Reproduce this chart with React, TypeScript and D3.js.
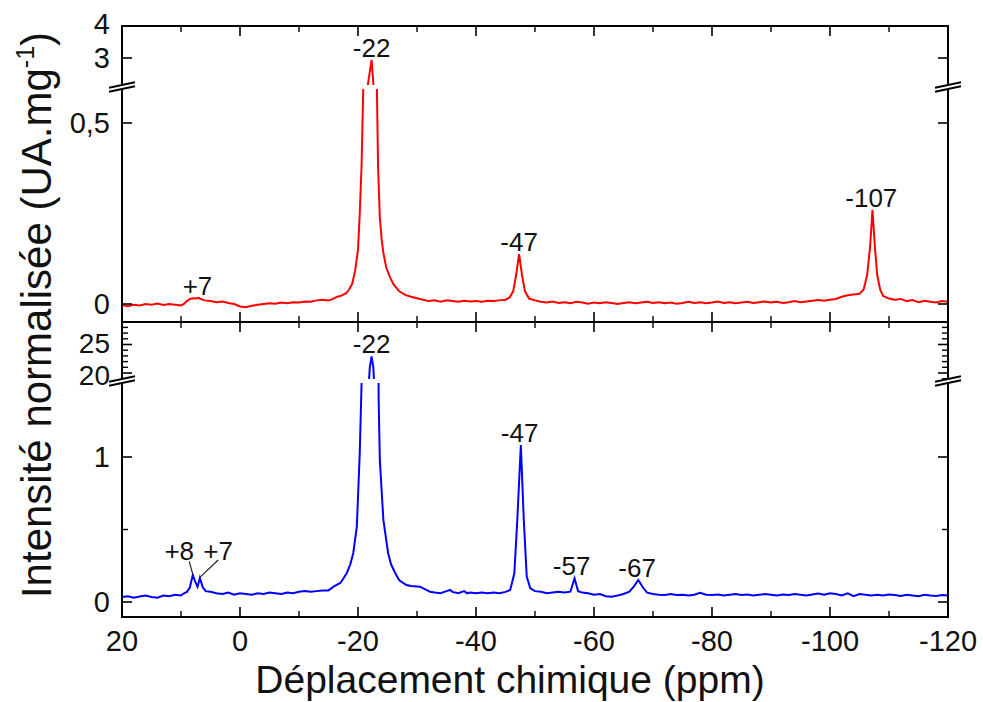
import React from "react";
import * as d3 from "d3";

// ---------- data ----------
// red spectrum (top panel): [chemical shift (ppm), normalised intensity]
const redSpectrum: [number, number][] = [
  [20, -0.003], [19, -0.006], [18, -0.002], [17, -0.004], [16, 0.0], [15, -0.002], [14, 0.001],
  [13, -0.003], [12, 0.0], [11, -0.002], [10, -0.004], [9.5, 0.0], [9, 0.008], [8.5, 0.014],
  [8, 0.016], [7.5, 0.015], [7, 0.017], [6.5, 0.013], [6, 0.01], [5, 0.008], [4, 0.005], [3, 0.007],
  [2, 0.003], [1, 0.0], [0, -0.007], [-1, -0.009], [-2, -0.005], [-3, -0.002], [-4, 0.0], [-5, 0.002],
  [-6, 0.001], [-7, 0.004], [-8, 0.002], [-9, 0.005], [-10, 0.004], [-11, 0.007], [-12, 0.006],
  [-13, 0.01], [-14, 0.012], [-15, 0.01], [-15.5, 0.012], [-16, 0.016], [-16.5, 0.02], [-17, 0.022],
  [-17.5, 0.026], [-18, 0.03], [-18.5, 0.04], [-19, 0.055], [-19.5, 0.09], [-20, 0.15], [-20.3, 0.25],
  [-20.6, 0.38], [-20.9, 0.6], [-21.3, 1.2], [-21.7, 2.2], [-22.3, 2.94], [-22.6, 2.2], [-22.9, 1.2],
  [-23.2, 0.6], [-23.4, 0.38], [-23.7, 0.24], [-24, 0.18], [-24.3, 0.141], [-24.8, 0.1], [-25.4, 0.075],
  [-26, 0.055], [-27, 0.035], [-28, 0.025], [-29, 0.02], [-30, 0.016], [-31, 0.012], [-32, 0.008],
  [-33, 0.01], [-34, 0.006], [-35, 0.01], [-36, 0.008], [-37, 0.006], [-38, 0.009], [-39, 0.007],
  [-40, 0.008], [-41, 0.006], [-42, 0.009], [-43, 0.008], [-44, 0.01], [-45, 0.012], [-45.7, 0.018],
  [-46.3, 0.035], [-46.8, 0.08], [-47.3, 0.138], [-47.8, 0.08], [-48.3, 0.035], [-49, 0.015],
  [-50, 0.01], [-51, 0.006], [-52, 0.004], [-53, 0.007], [-54, 0.003], [-55, 0.005], [-56, 0.002],
  [-57, 0.006], [-58, 0.004], [-59, 0.001], [-60, 0.004], [-61, 0.002], [-62, 0.005], [-63, 0.003],
  [-64, 0.0], [-65, 0.003], [-66, 0.005], [-67, 0.002], [-68, 0.004], [-69, 0.006], [-70, 0.003],
  [-71, 0.005], [-72, 0.002], [-73, 0.004], [-74, 0.001], [-75, 0.003], [-76, 0.006], [-77, 0.003],
  [-78, 0.005], [-79, 0.002], [-80, 0.004], [-81, 0.007], [-82, 0.003], [-83, 0.005], [-84, 0.002],
  [-85, 0.004], [-86, 0.006], [-87, 0.003], [-88, 0.005], [-89, 0.007], [-90, 0.004], [-91, 0.006],
  [-92, 0.003], [-93, 0.005], [-94, 0.008], [-95, 0.005], [-96, 0.007], [-97, 0.009], [-98, 0.011],
  [-99, 0.009], [-100, 0.012], [-101, 0.014], [-102, 0.02], [-103, 0.024], [-104, 0.026], [-105, 0.028],
  [-105.7, 0.04], [-106.3, 0.08], [-106.8, 0.16], [-107.2, 0.26], [-107.6, 0.16], [-108, 0.08],
  [-108.5, 0.04], [-109, 0.022], [-110, 0.015], [-111, 0.012], [-112, 0.014], [-113, 0.008],
  [-114, 0.011], [-115, 0.005], [-116, 0.009], [-117, 0.006], [-118, 0.004], [-119, 0.008], [-120, 0.006],
];

// blue spectrum (bottom panel)
const blueSpectrum: [number, number][] = [
  [20, 0.035], [19, 0.04], [18, 0.03], [17, 0.038], [16, 0.045], [15, 0.035], [14, 0.03], [13, 0.045],
  [12, 0.04], [11, 0.05], [10, 0.045], [9.5, 0.06], [9, 0.07], [8.5, 0.1], [8, 0.186], [7.6, 0.14],
  [7.2, 0.105], [6.8, 0.166], [6.3, 0.1], [5.8, 0.075], [5, 0.07], [4, 0.06], [3, 0.055], [2, 0.065],
  [1, 0.05], [0, 0.06], [-1, 0.055], [-2, 0.05], [-3, 0.06], [-4, 0.055], [-5, 0.065], [-6, 0.06],
  [-7, 0.055], [-8, 0.065], [-9, 0.06], [-10, 0.07], [-11, 0.075], [-12, 0.07], [-13, 0.075],
  [-14, 0.08], [-15, 0.08], [-16, 0.11], [-17, 0.131], [-17.5, 0.16], [-18.1, 0.2], [-18.7, 0.26],
  [-19.2, 0.338], [-19.8, 0.52], [-20.3, 1.03], [-20.6, 1.5], [-20.9, 3], [-21.5, 12], [-22, 21],
  [-22.3, 22.9], [-22.6, 21], [-23, 12], [-23.3, 3], [-23.5, 1.4], [-23.7, 0.98], [-24.3, 0.566],
  [-25.1, 0.338], [-25.6, 0.26], [-26.3, 0.2], [-27, 0.15], [-28.2, 0.117], [-29, 0.11], [-30.5, 0.106],
  [-31.5, 0.085], [-32.2, 0.071], [-33, 0.065], [-34, 0.06], [-35, 0.075], [-35.6, 0.083], [-36, 0.07],
  [-37, 0.06], [-38, 0.075], [-38.5, 0.06], [-39, 0.065], [-40, 0.06], [-41, 0.065], [-42, 0.06],
  [-43, 0.065], [-44, 0.06], [-45, 0.07], [-45.8, 0.083], [-46.5, 0.198], [-47, 0.566], [-47.6, 1.083],
  [-48.1, 0.566], [-48.6, 0.175], [-49.2, 0.094], [-50, 0.075], [-51, 0.07], [-52, 0.06], [-53, 0.065],
  [-54, 0.07], [-55, 0.065], [-56, 0.071], [-56.7, 0.163], [-57.3, 0.075], [-58, 0.065], [-59, 0.06],
  [-60, 0.05], [-61, 0.055], [-62, 0.04], [-63, 0.037], [-64, 0.045], [-65, 0.055], [-66, 0.071],
  [-66.8, 0.11], [-67.5, 0.152], [-68.3, 0.1], [-69, 0.064], [-70, 0.055], [-71, 0.05], [-72, 0.048],
  [-73, 0.055], [-74, 0.048], [-75, 0.05], [-76, 0.045], [-77, 0.05], [-78, 0.064], [-79, 0.05],
  [-80, 0.048], [-81, 0.052], [-82, 0.045], [-83, 0.05], [-84, 0.055], [-85, 0.048], [-86, 0.052],
  [-87, 0.045], [-88, 0.05], [-89, 0.055], [-90, 0.05], [-91, 0.045], [-92, 0.052], [-93, 0.048],
  [-94, 0.055], [-95, 0.05], [-96, 0.045], [-97, 0.052], [-98, 0.058], [-99, 0.05], [-100, 0.06],
  [-101, 0.055], [-102, 0.045], [-103, 0.06], [-104, 0.04], [-105, 0.055], [-106, 0.05], [-107, 0.045],
  [-108, 0.05], [-109, 0.045], [-110, 0.052], [-111, 0.048], [-112, 0.042], [-113, 0.05], [-114, 0.045],
  [-115, 0.04], [-116, 0.05], [-117, 0.045], [-118, 0.042], [-119, 0.048], [-120, 0.045],
];

// x axis ticks
const xMajorTicks = [20, 0, -20, -40, -60, -80, -100, -120];
const xMinorTicks = [10, -10, -30, -50, -70, -90, -110];

// y axis ticks (per broken-axis segment)
const topLowMajor = [0, 0.5];
const topUpMajor = [3, 4];
const botLowMajor = [0, 1];
const botLowMinor = [0.5];
const botUpMajor = [20, 25];
const botUpMinor = [19, 21, 22, 23, 24, 26, 27, 28];

// peak annotations: [text, ppm, intensity]
const topPeakLabels: [string, number, number][] = [
  ["-22", -22.3, 2.94],
  ["+7", 7.2, 0.017],
  ["-47", -47.3, 0.138],
  ["-107", -107.0, 0.26],
];
const botPeakLabels: [string, number, number][] = [
  ["-22", -22.3, 22.9],
  ["-47", -47.4, 1.083],
  ["-57", -56.2, 0.163],
  ["-67", -67.3, 0.152],
];
// labels with leader lines: [text, labelPpm, labelValue, fromPpm, fromValue, toPpm, toValue]
const botLeaderLabels: [string, number, number, number, number, number, number][] = [
  ["+8", 10.3, 0.29, 8.6, 0.28, 8.0, 0.19],
  ["+7", 3.7, 0.29, 3.7, 0.29, 6.8, 0.17],
];

const RED = "#ff0000";
const BLUE = "#0000ff";
const FONT = "'Liberation Sans', Arial, Helvetica, sans-serif";

// ---------- layout ----------
const W = 983;
const H = 702;
const L = 122;
const R = 948;
const topT = 26;
const mid = 322;
const botB = 617;

const x = d3.scaleLinear().domain([20, -120]).range([L, R]);

const yTopLow = d3.scaleLinear().domain([0, 0.5]).range([304, 123]);
const yTopUp = d3.scaleLinear().domain([3, 4]).range([58, 26]);
const yBotLow = d3.scaleLinear().domain([0, 1]).range([602, 457]);
const yBotUp = d3.scaleLinear().domain([20, 25]).range([373, 344.5]);

const topBreak = 87;
const botBreak = 381;

const fmt = (v: number) => String(v).replace(".", ",");

function linePath(data: [number, number][], y: d3.ScaleLinear<number, number>) {
  return d3
    .line<[number, number]>()
    .x((d) => x(d[0]))
    .y((d) => y(d[1]))(data) as string;
}

function BreakMark({ x0, yb }: { x0: number; yb: number }) {
  const hw = 13;
  const s = 2.75;
  const a1 = [x0 - hw, yb - 2 + s];
  const a2 = [x0 + hw, yb - 2 - s];
  const b1 = [x0 - hw, yb + 2 + s];
  const b2 = [x0 + hw, yb + 2 - s];
  return (
    <g>
      <polygon
        points={`${a1[0]},${a1[1]} ${a2[0]},${a2[1]} ${b2[0]},${b2[1]} ${b1[0]},${b1[1]}`}
        fill="white"
        stroke="none"
      />
      <line x1={a1[0]} y1={a1[1]} x2={a2[0]} y2={a2[1]} stroke="black" strokeWidth={1.8} />
      <line x1={b1[0]} y1={b1[1]} x2={b2[0]} y2={b2[1]} stroke="black" strokeWidth={1.8} />
    </g>
  );
}

function YTicks({
  y,
  major,
  minor,
  label,
  size = 29,
  nudge = {},
}: {
  y: d3.ScaleLinear<number, number>;
  major: number[];
  minor: number[];
  label: boolean;
  size?: number;
  nudge?: Record<string, number>;
}) {
  return (
    <g>
      {major.map((v) => (
        <g key={"M" + v}>
          <line x1={L} x2={L + 10} y1={y(v)} y2={y(v)} stroke="black" strokeWidth={1.6} />
          <line x1={R} x2={R - 10} y1={y(v)} y2={y(v)} stroke="black" strokeWidth={1.6} />
          {label && (
            <text
              x={110}
              y={y(v) + (nudge[String(v)] || 0)}
              dy="0.36em"
              textAnchor="end"
              fontSize={size}
              fontFamily={FONT}
              fill="#111"
            >
              {fmt(v)}
            </text>
          )}
        </g>
      ))}
      {minor.map((v) => (
        <g key={"m" + v}>
          <line x1={L} x2={L + 6} y1={y(v)} y2={y(v)} stroke="black" strokeWidth={1.4} />
          <line x1={R} x2={R - 6} y1={y(v)} y2={y(v)} stroke="black" strokeWidth={1.4} />
        </g>
      ))}
    </g>
  );
}

function XTicks({ yTop, yBot }: { yTop: number; yBot: number }) {
  return (
    <g>
      {xMajorTicks.map((v) => (
        <g key={"M" + v}>
          <line x1={x(v)} x2={x(v)} y1={yTop} y2={yTop + 10} stroke="black" strokeWidth={1.6} />
          <line x1={x(v)} x2={x(v)} y1={yBot} y2={yBot - 10} stroke="black" strokeWidth={1.6} />
        </g>
      ))}
      {xMinorTicks.map((v) => (
        <g key={"m" + v}>
          <line x1={x(v)} x2={x(v)} y1={yTop} y2={yTop + 6} stroke="black" strokeWidth={1.4} />
          <line x1={x(v)} x2={x(v)} y1={yBot} y2={yBot - 6} stroke="black" strokeWidth={1.4} />
        </g>
      ))}
    </g>
  );
}

export default function App() {
  return (
    <svg
      width={W}
      height={H}
      viewBox={`0 0 ${W} ${H}`}
      style={{ position: "absolute", left: 0, top: 0, background: "white" }}
    >
      <defs>
        <clipPath id="topLow">
          <rect x={L} y={topBreak + 2} width={R - L} height={mid - topBreak - 2} />
        </clipPath>
        <clipPath id="topUp">
          <rect x={L} y={topT} width={R - L} height={topBreak - 2 - topT} />
        </clipPath>
        <clipPath id="botLow">
          <rect x={L} y={botBreak + 2} width={R - L} height={botB - botBreak - 2} />
        </clipPath>
        <clipPath id="botUp">
          <rect x={L} y={mid} width={R - L} height={botBreak - 2 - mid} />
        </clipPath>
      </defs>
      <rect x={0} y={0} width={W} height={H} fill="white" />

      {/* spectra */}
      <path d={linePath(redSpectrum, yTopLow)} fill="none" stroke={RED} strokeWidth={2} clipPath="url(#topLow)" />
      <path d={linePath(redSpectrum, yTopUp)} fill="none" stroke={RED} strokeWidth={2} clipPath="url(#topUp)" />
      <path d={linePath(blueSpectrum, yBotLow)} fill="none" stroke={BLUE} strokeWidth={2} clipPath="url(#botLow)" />
      <path d={linePath(blueSpectrum, yBotUp)} fill="none" stroke={BLUE} strokeWidth={2} clipPath="url(#botUp)" />

      {/* frames */}
      <rect x={L} y={topT} width={R - L} height={mid - topT} fill="none" stroke="black" strokeWidth={2} />
      <rect x={L} y={mid} width={R - L} height={botB - mid} fill="none" stroke="black" strokeWidth={2} />

      <XTicks yTop={topT} yBot={mid} />
      <XTicks yTop={mid} yBot={botB} />

      <YTicks y={yTopLow} major={topLowMajor} minor={[]} label />
      <YTicks y={yTopUp} major={topUpMajor} minor={[]} label nudge={{ "4": -2 }} />
      <YTicks y={yBotLow} major={botLowMajor} minor={botLowMinor} label />
      <YTicks y={yBotUp} major={botUpMajor} minor={botUpMinor} label size={28} nudge={{ "25": -2, "20": 2 }} />

      <BreakMark x0={L} yb={topBreak} />
      <BreakMark x0={R} yb={topBreak} />
      <BreakMark x0={L} yb={botBreak} />
      <BreakMark x0={R} yb={botBreak} />

      {/* peak labels */}
      {topPeakLabels.map(([t, p, v]) => {
        const yy = v > 1 ? yTopUp(v) : yTopLow(v);
        return (
          <text key={"t" + t} x={x(p)} y={yy - 3} textAnchor="middle" fontSize={26} fontFamily={FONT} fill="#111">
            {t}
          </text>
        );
      })}
      {botPeakLabels.map(([t, p, v]) => {
        const yy = v > 2 ? yBotUp(v) : yBotLow(v);
        return (
          <text key={"b" + t} x={x(p)} y={yy - 3} textAnchor="middle" fontSize={26} fontFamily={FONT} fill="#111">
            {t}
          </text>
        );
      })}
      {botLeaderLabels.map(([t, lp, lv, fp, fv, tp, tv]) => (
        <g key={"l" + t}>
          <text x={x(lp)} y={yBotLow(lv)} textAnchor="middle" fontSize={26} fontFamily={FONT} fill="#111">
            {t}
          </text>
          <line x1={x(fp)} y1={yBotLow(fv)} x2={x(tp)} y2={yBotLow(tv)} stroke="#222" strokeWidth={1.2} />
        </g>
      ))}

      {/* x tick labels */}
      {xMajorTicks.map((v) => (
        <text key={"xl" + v} x={x(v)} y={651} textAnchor="middle" fontSize={29} fontFamily={FONT} fill="#111">
          {v}
        </text>
      ))}

      {/* axis titles */}
      <text x={510} y={693} textAnchor="middle" fontSize={39} fontFamily={FONT} fill="#111">
        Déplacement chimique (ppm)
      </text>
      <text
        transform="translate(51,315) rotate(-90)"
        textAnchor="middle"
        fontSize={42}
        fontFamily={FONT}
        fill="#111"
      >
        Intensité normalisée (UA.mg
        <tspan fontSize={25} dy={-17}>-1</tspan>
        <tspan dy={17}>)</tspan>
      </text>
    </svg>
  );
}
